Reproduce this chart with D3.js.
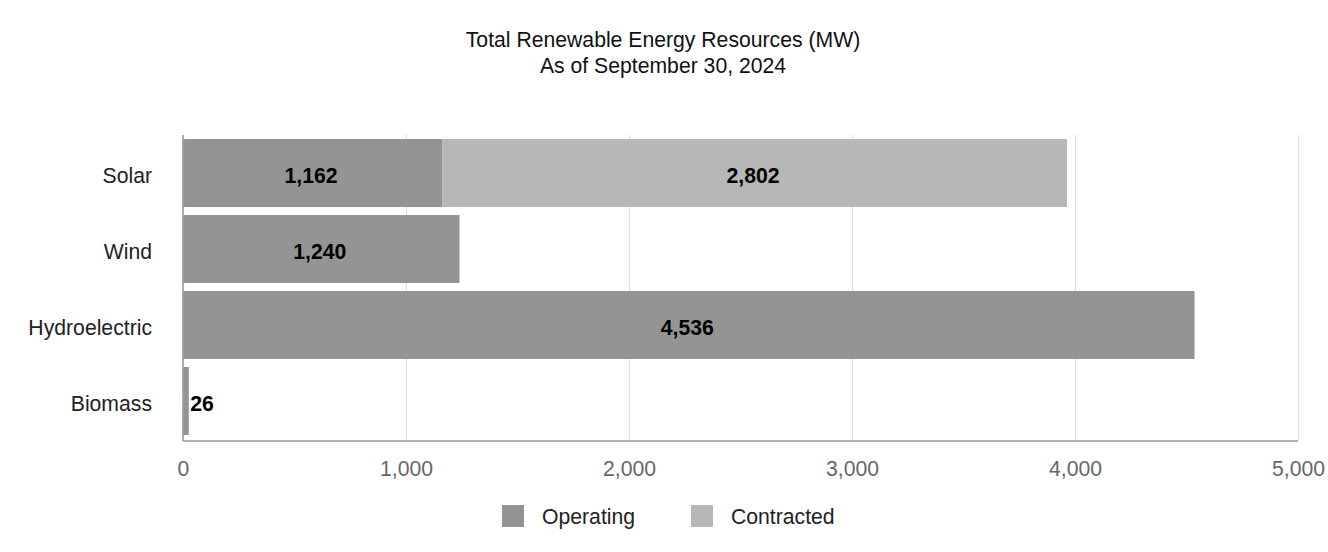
<!DOCTYPE html>
<html><head><meta charset="utf-8">
<script src="https://cdn.jsdelivr.net/npm/d3@7"></script>
<style>body{margin:0;background:#fff;} svg{display:block;font-family:"Liberation Sans",Arial,sans-serif;}</style>
</head><body>
<svg id="c" width="1328" height="552"></svg>
<script>
const categories = ["Solar", "Wind", "Hydroelectric", "Biomass"];
const operating = [1162, 1240, 4536, 26];
const contracted = [2802, 0, 0, 0];
const seriesNames = ["Operating", "Contracted"];
const xTicks = [0, 1000, 2000, 3000, 4000, 5000];
const colors = ["#949494", "#b7b7b7"];

const FS = 21.2;
const svg = d3.select("#c");
const x = d3.scaleLinear().domain([0, 5000]).range([183, 1298]);
const y = d3.scaleBand().domain(categories).range([135, 439]).paddingInner(0.105).paddingOuter(0.053);

// title
svg.append("text").attr("x", 663).attr("y", 47).attr("text-anchor", "middle").attr("font-size", FS).attr("fill", "#111").text("Total Renewable Energy Resources (MW)");
svg.append("text").attr("x", 663).attr("y", 73).attr("text-anchor", "middle").attr("font-size", FS).attr("fill", "#111").text("As of September 30, 2024");

// grid
const xAxis = d3.axisBottom(x).tickValues(xTicks).tickSize(-(441 - 135)).tickFormat(d3.format(","));
const gx = svg.append("g").attr("transform", "translate(0,441)").call(xAxis);
gx.select(".domain").remove();
gx.selectAll(".tick line").attr("stroke", "#e2e2e2").attr("stroke-width", 1.3);
gx.selectAll(".tick text").attr("fill", "#666").attr("font-size", FS).attr("dy", 0).attr("y", 35).attr("font-family", "'Liberation Sans',Arial,sans-serif");

// stacked bars
const rows = categories.map((c, i) => ({cat: c, vals: [operating[i], contracted[i]]}));
rows.forEach(r => {
  let acc = 0;
  r.vals.forEach((v, j) => {
    if (v > 0) {
      svg.append("rect").attr("x", x(acc)).attr("y", y(r.cat)).attr("width", x(acc + v) - x(acc)).attr("height", y.bandwidth()).attr("fill", colors[j]);
      const w = x(acc + v) - x(acc);
      const lab = svg.append("text").attr("y", y(r.cat) + y.bandwidth() / 2 + 10).attr("font-size", FS).attr("font-weight", "bold").attr("fill", "#000").text(d3.format(",")(v));
      if (w > 60) lab.attr("x", x(acc) + w / 2 - 1.5).attr("text-anchor", "middle");
      else lab.attr("x", x(acc + v) + 1.5).attr("text-anchor", "start");
    }
    acc += v;
  });
});

// axes lines
svg.append("line").attr("x1", x(0)).attr("x2", x(5000)).attr("y1", 441).attr("y2", 441).attr("stroke", "#999").attr("stroke-width", 1.5);
svg.append("line").attr("x1", x(0)).attr("x2", x(0)).attr("y1", 135).attr("y2", 441).attr("stroke", "#999").attr("stroke-width", 1.5);

// y labels
const yAxis = d3.axisLeft(y).tickSize(0).tickPadding(0);
const gy = svg.append("g").attr("transform", "translate(152,0)").call(yAxis);
gy.select(".domain").remove();
gy.selectAll(".tick text").attr("fill", "#222").attr("font-size", FS).attr("dy", 10).attr("font-family", "'Liberation Sans',Arial,sans-serif");

// legend
const leg = [{x: 502}, {x: 691}];
seriesNames.forEach((n, i) => {
  svg.append("rect").attr("x", leg[i].x).attr("y", 505).attr("width", 22).attr("height", 22).attr("fill", colors[i]);
  svg.append("text").attr("x", leg[i].x + 40).attr("y", 524).attr("font-size", FS).attr("fill", "#222").text(n);
});
</script>
</body></html>
